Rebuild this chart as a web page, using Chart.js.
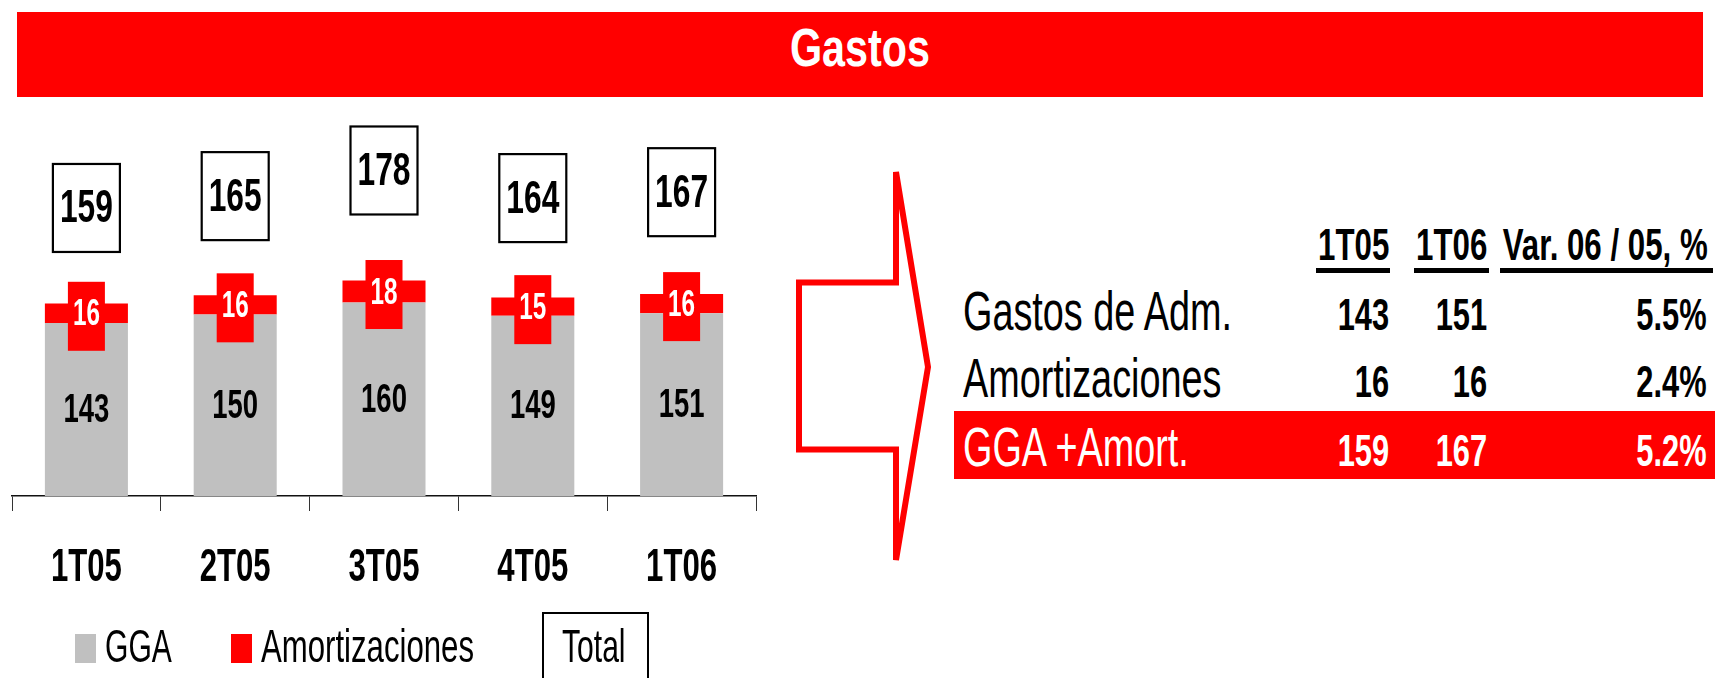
<!DOCTYPE html>
<html>
<head>
<meta charset="utf-8">
<title>Gastos</title>
<script src="https://cdn.jsdelivr.net/npm/chart.js"></script>
<style>
  body { margin: 0; background: #fff; }
  #page { position: relative; width: 1715px; height: 678px; overflow: hidden; font-family: "Liberation Sans", Arial, sans-serif; }
  .txt { position: absolute; white-space: nowrap; }
  .box { position: absolute; box-sizing: border-box; }
  #chartWrap { position: absolute; left: 0; top: 0; width: 770px; height: 678px; }
</style>
</head>
<body>
<div id="page">
  <div class="box" style="left:17px;top:12px;width:1686px;height:85px;background:#ff0000"></div>
  <svg class="box" style="left:0;top:0" width="1715" height="678">
    <polygon points="799,282.5 896,282.5 896,172 928,367 896,560 896,449.5 799,449.5"
             fill="#fff" stroke="#ff0000" stroke-width="6" stroke-linejoin="miter" stroke-miterlimit="4"/>
  </svg>
  <div class="box" style="left:954px;top:411px;width:761px;height:68px;background:#ff0000"></div>
  <div id="chartWrap"><canvas id="gastosChart" width="770" height="678"></canvas></div>
</div>

<script>
// data
const categories = ['1T05', '2T05', '3T05', '4T05', '1T06'];
const gga = [143, 150, 160, 149, 151];
const amort = [16, 16, 18, 15, 16];
const total = [159, 165, 178, 164, 167];

const tableHeader = ['1T05', '1T06', 'Var. 06 / 05, %'];
const tableLabels = ['Gastos de Adm.', 'Amortizaciones', 'GGA +Amort.'];
const table1T05 = [143, 16, 159];
const table1T06 = [151, 16, 167];
const tableVar = ['5.5%', '2.4%', '5.2%'];

const GREY = '#c0c0c0';
const RED = '#ff0000';
const FONT = '"Liberation Sans", Arial, sans-serif';
const page = document.getElementById('page');

// html text, squeezed horizontally like the narrow font of the slide
function addText(txt, o) {
    const el = document.createElement('div');
    el.className = 'txt';
    el.textContent = txt;
    el.style.fontSize = o.size + 'px';
    el.style.lineHeight = o.size + 'px';
    el.style.fontWeight = o.bold ? 'bold' : 'normal';
    el.style.color = o.color || '#000';
    el.style.top = (o.base - 0.8465 * o.size) + 'px';
    if (o.align === 'right') {
        el.style.right = (1715 - o.x) + 'px';
        el.style.transformOrigin = '100% 0';
        el.style.transform = 'scaleX(' + o.k + ')';
    } else if (o.align === 'center') {
        el.style.left = o.x + 'px';
        el.style.transformOrigin = '50% 0';
        el.style.transform = 'translateX(-50%) scaleX(' + o.k + ')';
    } else {
        el.style.left = o.x + 'px';
        el.style.transformOrigin = '0 0';
        el.style.transform = 'scaleX(' + o.k + ')';
    }
    page.appendChild(el);
}

function addBox(x, y, w, h, css) {
    const el = document.createElement('div');
    el.className = 'box';
    el.style.cssText += 'left:' + x + 'px;top:' + y + 'px;width:' + w + 'px;height:' + h + 'px;' + css;
    page.appendChild(el);
}

// title
addText('Gastos', {x: 860, base: 66, size: 53, bold: true, k: 0.78, align: 'center', color: '#fff'});

// table on the right
const colRight = [1389, 1487, 1708];
const headLines = [[1316, 74], [1414, 75], [1500, 213]];
tableHeader.forEach((h, i) => {
    addText(h, {x: colRight[i], base: 260.5, size: 44, bold: true, k: 0.71, align: 'right'});
    addBox(headLines[i][0], 267.5, headLines[i][1], 5, 'background:#000');
});
const rowBase = [330, 397.5, 466.5];
tableLabels.forEach((lab, r) => {
    const col = r === 2 ? '#fff' : '#000';
    addText(lab, {x: 963, base: rowBase[r], size: 56, k: 0.675, color: col});
    addText(String(table1T05[r]), {x: colRight[0], base: rowBase[r], size: 45, bold: true, k: 0.685, align: 'right', color: col});
    addText(String(table1T06[r]), {x: colRight[1], base: rowBase[r], size: 45, bold: true, k: 0.685, align: 'right', color: col});
    addText(tableVar[r], {x: colRight[2] - 1, base: rowBase[r], size: 45, bold: true, k: 0.685, align: 'right', color: col});
});

// canvas text helper
function drawText(ctx, txt, x, base, size, bold, k, color) {
    ctx.save();
    ctx.translate(x, base);
    ctx.scale(k, 1);
    ctx.font = (bold ? 'bold ' : '') + size + 'px ' + FONT;
    ctx.textAlign = 'center';
    ctx.textBaseline = 'alphabetic';
    ctx.fillStyle = color;
    ctx.fillText(txt, 0, 0);
    ctx.restore();
}

const labelPlugin = {
    id: 'labelPlugin',
    afterDraw(chart) {
        const ctx = chart.ctx;
        const mGga = chart.getDatasetMeta(0).data;
        const mAm = chart.getDatasetMeta(1).data;
        const mTot = chart.getDatasetMeta(2).data;
        const xs = chart.scales.x;
        categories.forEach((c, i) => {
            // grey segment value
            const g = mGga[i];
            drawText(ctx, String(gga[i]), g.x, (g.y + g.base) / 2 + 12.5, 41, true, 0.67, '#000');
            // red label box on the amortization segment
            const a = mAm[i];
            const mid = (a.y + a.base) / 2;
            ctx.fillStyle = RED;
            ctx.fillRect(a.x - 18.5, mid + 3 - 34.5, 37, 69);
            drawText(ctx, String(amort[i]), a.x, mid + 12, 36, true, 0.675, '#fff');
            // total box
            const t = mTot[i];
            ctx.fillStyle = '#fff';
            ctx.fillRect(t.x - 34.5, t.y - 45, 69, 90);
            ctx.strokeStyle = '#000';
            ctx.lineWidth = 2.2;
            ctx.strokeRect(t.x - 33.5, t.y - 44, 67, 88);
            drawText(ctx, String(total[i]), t.x, t.y + 14.5, 46, true, 0.69, '#000');
            // category label
            drawText(ctx, c, xs.getPixelForValue(i), 581, 46, true, 0.677, '#000');
        });
    }
};

const chart = new Chart(document.getElementById('gastosChart').getContext('2d'), {
    type: 'bar',
    data: {
        labels: categories,
        datasets: [
            {label: 'GGA', data: gga, backgroundColor: GREY, stack: 's', yAxisID: 'y',
             categoryPercentage: 1, barPercentage: 0.558},
            {label: 'Amortizaciones', data: amort, backgroundColor: RED, stack: 's', yAxisID: 'y',
             categoryPercentage: 1, barPercentage: 0.558},
            {type: 'line', label: 'Total', data: total, yAxisID: 'y2', showLine: false,
             pointRadius: 0, borderColor: '#000', backgroundColor: '#fff'}
        ]
    },
    options: {
        responsive: false,
        animation: false,
        events: [],
        layout: {padding: {left: 12, right: 14, top: 133, bottom: 167}},
        plugins: {legend: {display: false}, tooltip: {enabled: false}},
        scales: {
            x: {
                stacked: true,
                offset: true,
                z: 1,
                grid: {offset: true, drawOnChartArea: false, drawTicks: true, tickLength: 15, color: '#333', lineWidth: 1},
                border: {display: true, color: '#111', width: 1.5},
                ticks: {display: false}
            },
            y: {stacked: true, display: false, min: 0, max: 300},
            y2: {display: false, min: 13, max: 197}
        }
    },
    plugins: [labelPlugin]
});

// legend, built from the chart datasets
const legendPos = [{sq: 75, tx: 105, k: 0.64}, {sq: 231, tx: 261, k: 0.663}];
chart.data.datasets.slice(0, 2).forEach((ds, i) => {
    addBox(legendPos[i].sq, 634, 21, 29, 'background:' + ds.backgroundColor);
    addText(ds.label, {x: legendPos[i].tx, base: 662, size: 47, k: legendPos[i].k});
});
addBox(542, 612, 107, 90, 'border:2px solid #000;background:#fff');
addText(chart.data.datasets[2].label, {x: 562, base: 662, size: 47, k: 0.64});
</script>
</body>
</html>
